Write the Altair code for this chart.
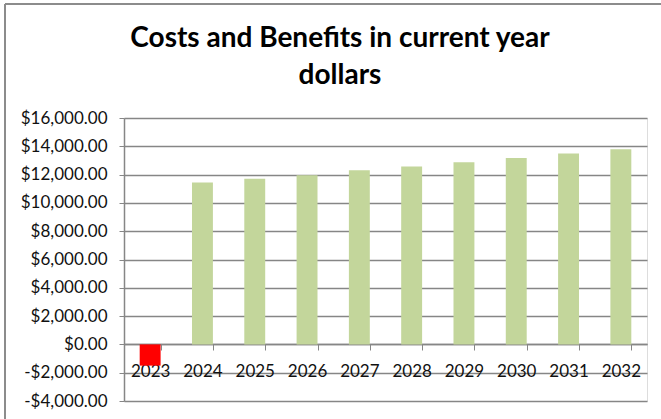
import altair as alt
import pandas as pd

years = ["2023", "2024", "2025", "2026", "2027", "2028", "2029", "2030", "2031", "2032"]
values = [-1500, 11450, 11700, 11960, 12300, 12580, 12880, 13170, 13500, 13800]
colors = ["#FF0000"] + ["#C3D69B"] * 9
title_lines = ["Costs and Benefits in current year", "dollars"]
y_ticks = [-4000, -2000, 0, 2000, 4000, 6000, 8000, 10000, 12000, 14000, 16000]

df = pd.DataFrame({"year": years, "value": values, "color": colors})
tdf = pd.DataFrame({"line": title_lines, "i": [0, 1]})

W, H = 523, 283
GRID = "#868686"

bars = alt.Chart(df).mark_bar(clip=False).encode(
    x=alt.X("year:N", sort=years,
            scale=alt.Scale(paddingInner=0.6, paddingOuter=0.3),
            axis=alt.Axis(title=None, orient="bottom", offset=-57, labelAngle=0,
                          tickBand="extent", tickSize=6, tickColor=GRID,
                          domainColor=GRID, domainWidth=1.5, labelPadding=13,
                          labelFont="Lato", labelFontSize=17, labelColor="#111111",
                          grid=False)),
    y=alt.Y("value:Q",
            scale=alt.Scale(domain=[-4000, 16000], nice=False),
            axis=alt.Axis(title=None, values=y_ticks,
                          labelExpr="datum.value < 0 ? '-' + format(-datum.value, '$,.2f') : format(datum.value, '$,.2f')",
                          tickSize=5, tickColor=GRID, domainColor=GRID, domainWidth=1.5,
                          gridColor=GRID, gridWidth=1.5, gridOpacity=1,
                          labelPadding=12, labelFont="Lato", labelFontSize=17,
                          labelColor="#111111")),
    color=alt.Color("color:N", scale=None),
)

title1 = alt.Chart(tdf).transform_filter("datum.i == 0").mark_text(
    font="Lato", fontSize=28, fontWeight="bold", color="#000000",
    align="center", baseline="alphabetic", clip=False
).encode(text="line:N", x=alt.value(216), y=alt.value(-71))

title2 = alt.Chart(tdf).transform_filter("datum.i == 1").mark_text(
    font="Lato", fontSize=28, fontWeight="bold", color="#000000",
    align="center", baseline="alphabetic", clip=False
).encode(text="line:N", x=alt.value(216), y=alt.value(-34))

frame_top = alt.Chart(df).mark_rule(color="#8c8c8c", strokeWidth=2, clip=False).encode(
    x=alt.value(-119), x2=alt.value(W + 40), y=alt.value(-114)
)
frame_left = alt.Chart(df).mark_rule(color="#8c8c8c", strokeWidth=2, clip=False).encode(
    x=alt.value(-119), y=alt.value(-114), y2=alt.value(H + 40)
)

chart = alt.layer(bars, title1, title2, frame_top, frame_left).properties(
    width=W, height=H,
    autosize=alt.AutoSizeParams(type="none"),
    padding={"left": 124, "top": 118, "right": 14, "bottom": 18},
).configure_view(stroke=None).configure(background="white")

chart.save("out.html", embed_options={"renderer": "svg", "actions": False})
